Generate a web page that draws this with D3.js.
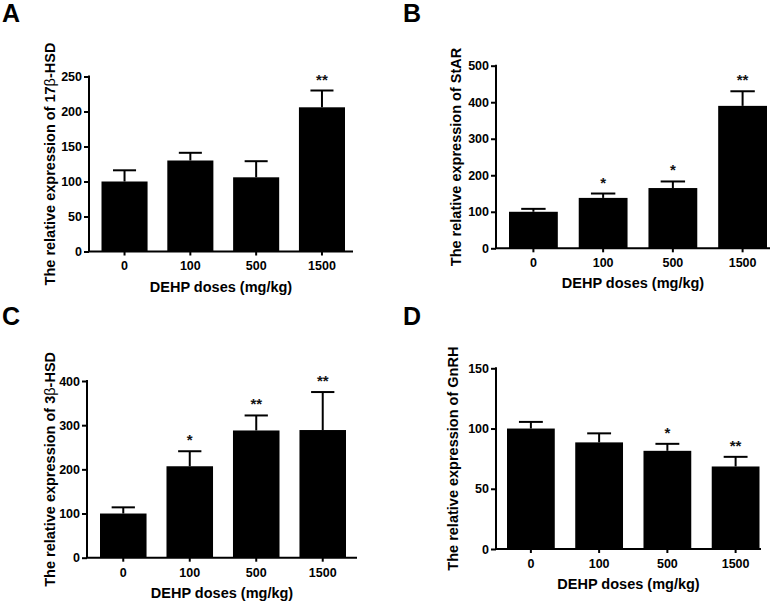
<!DOCTYPE html>
<html>
<head>
<meta charset="utf-8">
<script src="https://cdn.jsdelivr.net/npm/d3@7/dist/d3.min.js"></script>
<style>
  html, body { margin: 0; padding: 0; background: #fff; }
  svg { display: block; font-family: Arial, "Liberation Sans", sans-serif; }
</style>
</head>
<body>
<svg id="chart" width="783" height="604"></svg>
<script>
// ---- Data ----
const categories = ["0", "100", "500", "1500"];

const meansA = [100, 130, 106, 206];
const semA   = [16, 11, 23, 24];
const sigA   = ["", "", "", "**"];
const ticksA = [0, 50, 100, 150, 200, 250];

const meansB = [100, 138, 165, 390];
const semB   = [8, 12, 18, 40];
const sigB   = ["", "*", "*", "**"];
const ticksB = [0, 100, 200, 300, 400, 500];

const meansC = [100, 207, 288, 289];
const semC   = [14, 34, 34, 86];
const sigC   = ["", "*", "**", "**"];
const ticksC = [0, 100, 200, 300, 400];

const meansD = [100, 88.5, 81.5, 68.5];
const semD   = [5.5, 7.5, 5.8, 8];
const sigD   = ["", "", "*", "**"];
const ticksD = [0, 50, 100, 150];

const xTitle = "DEHP doses (mg/kg)";

// ---- Layout per panel ----
const panels = [
  { letter: "A", gene: ["The relative expression of 17", "β", "-HSD"], means: meansA, sems: semA, sig: sigA, ticks: ticksA,
    x0: 101.5, x1: 345, axisX: 89, axisEnd: 353, yB: 251.5, yT: 76.5, titleX: 50, lx: 2, ly: 22 },
  { letter: "B", gene: ["The relative expression of StAR", "", ""], means: meansB, sems: semB, sig: sigB, ticks: ticksB,
    x0: 509, x1: 767, axisX: 496, axisEnd: 770, yB: 248.3, yT: 65.7, titleX: 456, lx: 403, ly: 22 },
  { letter: "C", gene: ["The relative expression of 3", "β", "-HSD"], means: meansC, sems: semC, sig: sigC, ticks: ticksC,
    x0: 100, x1: 346, axisX: 87, axisEnd: 357, yB: 557.7, yT: 381, titleX: 50, lx: 2, ly: 325 },
  { letter: "D", gene: ["The relative expression of GnRH", "", ""], means: meansD, sems: semD, sig: sigD, ticks: ticksD,
    x0: 507, x1: 759.5, axisX: 496, axisEnd: 761, yB: 549, yT: 368.3, titleX: 453, lx: 403, ly: 325 }
];

const svg = d3.select("#chart");

panels.forEach(p => {
  const g = svg.append("g");
  const yMax = d3.max(p.ticks);
  const x = d3.scaleBand().domain(categories).range([p.x0, p.x1]).paddingInner(0.3).paddingOuter(0);
  const y = d3.scaleLinear().domain([0, yMax]).range([p.yB, p.yT]);

  const rows = categories.map((c, i) => ({ c, m: p.means[i], s: p.sems[i], sig: p.sig[i] }));

  // bars
  g.selectAll("rect.bar").data(rows).enter().append("rect")
    .attr("class", "bar")
    .attr("x", d => x(d.c))
    .attr("width", x.bandwidth())
    .attr("y", d => y(d.m))
    .attr("height", d => y(0) - y(d.m))
    .attr("fill", "#000");

  // error bars
  const capW = x.bandwidth() * 0.5;
  g.selectAll("line.err").data(rows).enter().append("line")
    .attr("x1", d => x(d.c) + x.bandwidth() / 2)
    .attr("x2", d => x(d.c) + x.bandwidth() / 2)
    .attr("y1", d => y(d.m))
    .attr("y2", d => y(d.m + d.s))
    .attr("stroke", "#000").attr("stroke-width", 2);
  g.selectAll("line.cap").data(rows).enter().append("line")
    .attr("x1", d => x(d.c) + x.bandwidth() / 2 - capW / 2)
    .attr("x2", d => x(d.c) + x.bandwidth() / 2 + capW / 2)
    .attr("y1", d => y(d.m + d.s))
    .attr("y2", d => y(d.m + d.s))
    .attr("stroke", "#000").attr("stroke-width", 2);

  // significance
  g.selectAll("text.sig").data(rows.filter(d => d.sig)).enter().append("text")
    .attr("x", d => x(d.c) + x.bandwidth() / 2)
    .attr("y", d => y(d.m + d.s) - 6)
    .attr("text-anchor", "middle")
    .attr("font-size", 15).attr("font-weight", "bold").attr("fill", "#111")
    .text(d => d.sig);

  // y axis
  const ya = g.append("g").attr("transform", `translate(${p.axisX},0)`)
    .call(d3.axisLeft(y).tickValues(p.ticks).tickSize(5).tickSizeOuter(0).tickPadding(2));
  ya.select(".domain").remove();
  ya.selectAll(".tick line").attr("stroke", "#000").attr("stroke-width", 2);
  ya.selectAll(".tick text").attr("font-size", 12.5).attr("font-weight", "bold").attr("fill", "#000")
    .attr("font-family", "Arial, 'Liberation Sans', sans-serif");
  g.append("line").attr("x1", p.axisX).attr("x2", p.axisX).attr("y1", p.yT - 1).attr("y2", p.yB)
    .attr("stroke", "#000").attr("stroke-width", 2);

  // x axis
  const xa = g.append("g").attr("transform", `translate(0,${p.yB})`)
    .call(d3.axisBottom(x).tickSize(4).tickSizeOuter(0).tickPadding(6));
  xa.select(".domain").remove();
  xa.selectAll(".tick line").attr("stroke", "#000").attr("stroke-width", 2);
  xa.selectAll(".tick text").attr("font-size", 12.5).attr("font-weight", "bold").attr("fill", "#000")
    .attr("font-family", "Arial, 'Liberation Sans', sans-serif");
  g.append("line").attr("x1", p.axisX - 1).attr("x2", p.axisEnd).attr("y1", p.yB).attr("y2", p.yB)
    .attr("stroke", "#000").attr("stroke-width", 2);

  // x title
  g.append("text")
    .attr("x", (p.axisX + p.axisEnd) / 2)
    .attr("y", p.yB + 40)
    .attr("text-anchor", "middle")
    .attr("font-size", 14.5).attr("font-weight", "bold")
    .text(xTitle);

  // y title
  const yt = g.append("text")
    .attr("transform", `translate(${p.titleX},${(p.yT + p.yB) / 2}) rotate(-90)`)
    .attr("text-anchor", "middle")
    .attr("dy", "0.35em")
    .attr("font-size", 14.5).attr("font-weight", "bold");
  yt.append("tspan").text(p.gene[0]);
  if (p.gene[1]) yt.append("tspan").attr("font-weight", "normal").text(p.gene[1]);
  if (p.gene[2]) yt.append("tspan").text(p.gene[2]);

  // panel letter
  g.append("text")
    .attr("x", p.lx).attr("y", p.ly)
    .attr("font-size", 25).attr("font-weight", "bold")
    .text(p.letter);
});
</script>
</body>
</html>
